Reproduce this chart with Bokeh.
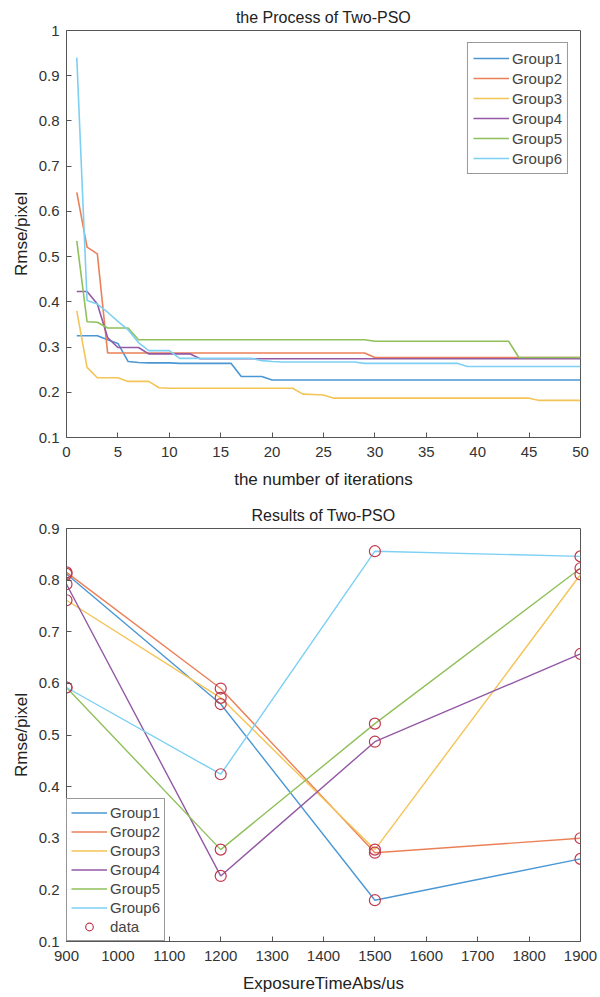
from bokeh.plotting import figure
from bokeh.layouts import column
from bokeh.models import ColumnDataSource, Legend, LegendItem, FixedTicker, Range1d
from bokeh.embed import file_html
from bokeh.resources import INLINE

# ---------------- data: top chart (iterations) ----------------
iterations = list(range(1, 51))
g1_iter = [0.325, 0.325, 0.325, 0.316, 0.308, 0.268, 0.266, 0.265, 0.265, 0.265,
           0.264, 0.264, 0.264, 0.264, 0.264, 0.264, 0.235, 0.235, 0.235, 0.227,
           0.227, 0.227, 0.227, 0.227, 0.227, 0.227, 0.227, 0.227, 0.227, 0.227,
           0.227, 0.227, 0.227, 0.227, 0.227, 0.227, 0.227, 0.227, 0.227, 0.227,
           0.227, 0.227, 0.227, 0.227, 0.227, 0.227, 0.227, 0.227, 0.227, 0.227]
g2_iter = [0.642, 0.521, 0.506, 0.287, 0.287, 0.287, 0.287, 0.287, 0.287, 0.287,
           0.287, 0.287, 0.287, 0.287, 0.287, 0.287, 0.287, 0.287, 0.287, 0.287,
           0.287, 0.287, 0.287, 0.287, 0.287, 0.287, 0.287, 0.287, 0.287, 0.277,
           0.277, 0.277, 0.277, 0.277, 0.277, 0.277, 0.277, 0.277, 0.277, 0.277,
           0.277, 0.277, 0.277, 0.277, 0.277, 0.277, 0.277, 0.277, 0.277, 0.277]
g3_iter = [0.380, 0.255, 0.232, 0.232, 0.232, 0.224, 0.224, 0.224, 0.210, 0.209,
           0.209, 0.209, 0.209, 0.209, 0.209, 0.209, 0.209, 0.209, 0.209, 0.209,
           0.209, 0.209, 0.196, 0.195, 0.194, 0.187, 0.187, 0.187, 0.187, 0.187,
           0.187, 0.187, 0.187, 0.187, 0.187, 0.187, 0.187, 0.187, 0.187, 0.187,
           0.187, 0.187, 0.187, 0.187, 0.187, 0.182, 0.182, 0.182, 0.182, 0.182]
g4_iter = [0.423, 0.423, 0.395, 0.321, 0.299, 0.299, 0.299, 0.285, 0.285, 0.285,
           0.285, 0.285, 0.274, 0.274, 0.274, 0.274, 0.274, 0.274, 0.274, 0.274,
           0.274, 0.274, 0.274, 0.274, 0.274, 0.274, 0.274, 0.274, 0.274, 0.274,
           0.274, 0.274, 0.274, 0.274, 0.274, 0.274, 0.274, 0.274, 0.274, 0.274,
           0.274, 0.274, 0.274, 0.274, 0.274, 0.274, 0.274, 0.274, 0.274, 0.274]
g5_iter = [0.535, 0.356, 0.355, 0.342, 0.342, 0.342, 0.316, 0.316, 0.316, 0.316,
           0.316, 0.316, 0.316, 0.316, 0.316, 0.316, 0.316, 0.316, 0.316, 0.316,
           0.316, 0.316, 0.316, 0.316, 0.316, 0.316, 0.316, 0.316, 0.316, 0.313,
           0.313, 0.313, 0.313, 0.313, 0.313, 0.313, 0.313, 0.313, 0.313, 0.313,
           0.313, 0.313, 0.313, 0.277, 0.277, 0.277, 0.277, 0.277, 0.277, 0.277]
g6_iter = [0.940, 0.403, 0.395, 0.377, 0.357, 0.338, 0.310, 0.292, 0.292, 0.292,
           0.275, 0.275, 0.275, 0.275, 0.275, 0.275, 0.275, 0.275, 0.270, 0.268,
           0.267, 0.267, 0.267, 0.267, 0.267, 0.267, 0.267, 0.267, 0.264, 0.264,
           0.264, 0.264, 0.264, 0.264, 0.264, 0.264, 0.264, 0.264, 0.257, 0.257,
           0.257, 0.257, 0.257, 0.257, 0.257, 0.257, 0.257, 0.257, 0.257, 0.257]

# ---------------- data: bottom chart (exposure time) ----------------
exposure = [900, 1200, 1500, 1900]
g1_res = [0.812, 0.560, 0.180, 0.260]
g2_res = [0.815, 0.590, 0.272, 0.300]
g3_res = [0.761, 0.572, 0.278, 0.811]
g4_res = [0.792, 0.227, 0.487, 0.657]
g5_res = [0.592, 0.278, 0.522, 0.823]
g6_res = [0.592, 0.424, 0.856, 0.846]

group_names = ["Group1", "Group2", "Group3", "Group4", "Group5", "Group6"]
colors = ["#4a97d4", "#eb8058", "#f4c456", "#9359a5", "#8fc05a", "#7dd0f3"]
marker_color = "#c0394f"

FONT = "Liberation Sans"
AX = "#555555"


def style(p):
    p.outline_line_color = AX
    p.outline_line_width = 1
    p.xgrid.visible = False
    p.ygrid.visible = False
    for ax in (p.xaxis[0], p.yaxis[0]):
        ax.axis_line_color = AX
        ax.major_tick_line_color = AX
        ax.major_tick_in = 5
        ax.major_tick_out = 0
        ax.minor_tick_line_color = None
        ax.major_label_text_font = FONT
        ax.major_label_text_font_size = "15px"
        ax.major_label_text_color = "#333333"
        ax.axis_label_text_font = FONT
        ax.axis_label_text_font_size = "17px"
        ax.axis_label_text_font_style = "normal"
        ax.axis_label_text_color = "#222222"
    p.xaxis[0].major_label_standoff = 9
    p.xaxis[0].axis_label_standoff = 10
    p.yaxis[0].major_label_standoff = 7
    p.title.text_font = FONT
    p.title.text_font_size = "16px"
    p.title.text_font_style = "normal"
    p.title.align = "center"
    p.title.text_color = "#222222"


# ---------------- top figure ----------------
p1 = figure(width=600, height=493, output_backend="svg", toolbar_location=None,
            title="the Process of Two-PSO",
            x_range=Range1d(0, 50), y_range=Range1d(0.1, 1.0),
            min_border_left=64, min_border_right=17, min_border_top=30, min_border_bottom=56)
p1.xaxis.ticker = FixedTicker(ticks=list(range(0, 51, 5)))
p1.yaxis.ticker = FixedTicker(ticks=[0.1, 0.2, 0.3, 0.4, 0.5, 0.6, 0.7, 0.8, 0.9, 1.0])
p1.yaxis.major_label_overrides = {1.0: "1"}
p1.xaxis.axis_label = "the number of iterations"
p1.yaxis.axis_label = "Rmse/pixel"
style(p1)

series_iter = [g1_iter, g2_iter, g3_iter, g4_iter, g5_iter, g6_iter]
items1 = []
for name, ys, c in zip(group_names, series_iter, colors):
    src = ColumnDataSource(dict(x=iterations, y=ys))
    r = p1.line("x", "y", source=src, line_color=c, line_width=1.6)
    items1.append(LegendItem(label=name, renderers=[r]))

leg1 = Legend(items=items1, location="top_right")
leg1.margin = 12
leg1.padding = 5
leg1.spacing = 0
leg1.glyph_height = 20
leg1.glyph_width = 36
leg1.label_standoff = 3
leg1.label_text_font = FONT
leg1.label_text_font_size = "15px"
leg1.label_height = 20
leg1.border_line_color = "#333333"
leg1.border_line_width = 1
p1.add_layout(leg1)

# ---------------- bottom figure ----------------
p2 = figure(width=600, height=504, output_backend="svg", toolbar_location=None,
            title="Results of Two-PSO",
            x_range=Range1d(900, 1900), y_range=Range1d(0.1, 0.9),
            min_border_left=66, min_border_right=20, min_border_top=35, min_border_bottom=56)
p2.xaxis.ticker = FixedTicker(ticks=list(range(900, 1901, 100)))
p2.yaxis.ticker = FixedTicker(ticks=[0.1, 0.2, 0.3, 0.4, 0.5, 0.6, 0.7, 0.8, 0.9])
p2.xaxis.axis_label = "ExposureTimeAbs/us"
p2.yaxis.axis_label = "Rmse/pixel"
style(p2)

series_res = [g1_res, g2_res, g3_res, g4_res, g5_res, g6_res]
items2 = []
for name, ys, c in zip(group_names, series_res, colors):
    src = ColumnDataSource(dict(x=exposure, y=ys))
    r = p2.line("x", "y", source=src, line_color=c, line_width=1.4)
    items2.append(LegendItem(label=name, renderers=[r]))

all_x = []
all_y = []
for ys in series_res:
    all_x.extend(exposure)
    all_y.extend(ys)
pts = ColumnDataSource(dict(x=all_x, y=all_y))
rd = p2.scatter("x", "y", source=pts, marker="circle", size=11, fill_color=None,
                line_color=marker_color, line_width=1.2)
items2.append(LegendItem(label="data", renderers=[rd]))

leg2 = Legend(items=items2, location="bottom_left")
leg2.margin = 0
leg2.padding = 4
leg2.spacing = 0
leg2.glyph_height = 19
leg2.glyph_width = 36
leg2.label_standoff = 3
leg2.label_text_font = FONT
leg2.label_text_font_size = "15px"
leg2.label_height = 19
leg2.border_line_color = "#333333"
leg2.border_line_width = 1
p2.add_layout(leg2)

layout = column(p1, p2)
open("out.html", "w").write(file_html(layout, INLINE))
